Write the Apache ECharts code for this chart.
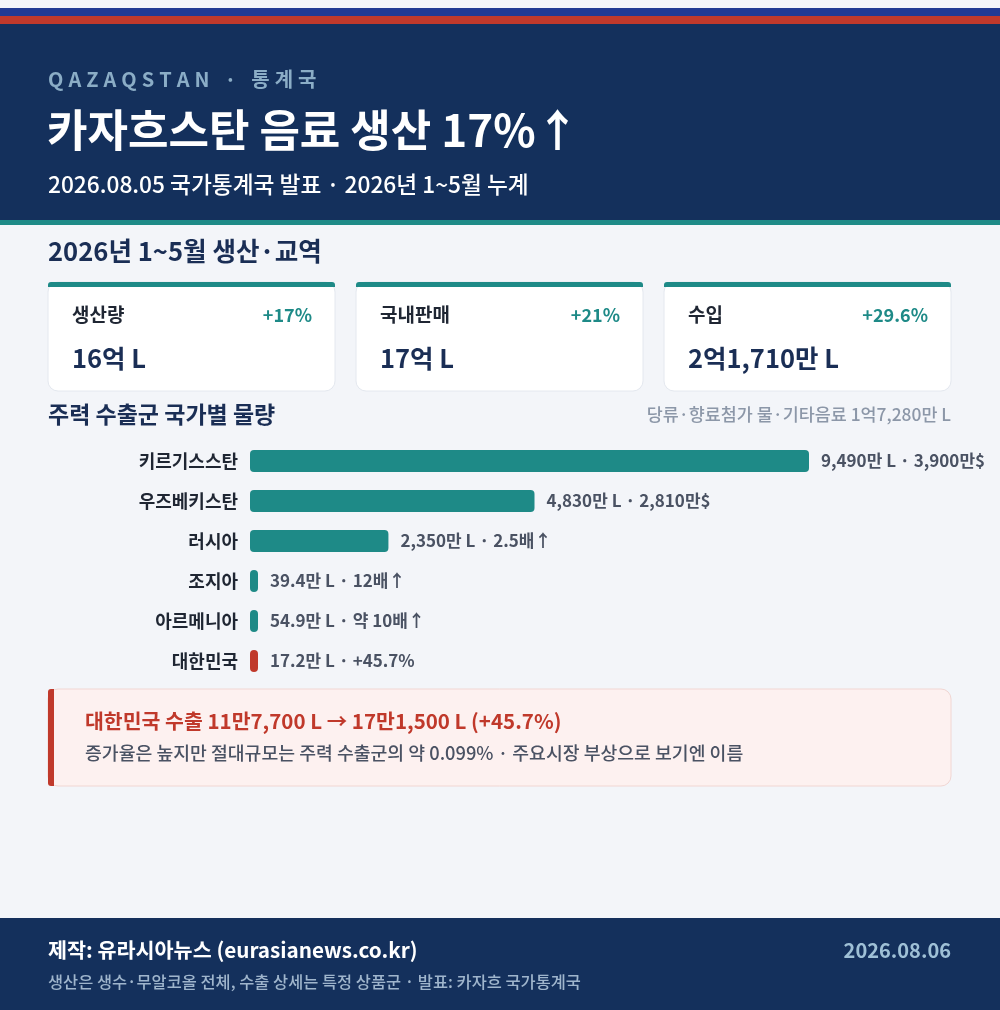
<!DOCTYPE html>
<html>
<head>
<meta charset="utf-8">
<script src="https://cdn.jsdelivr.net/npm/echarts@6/dist/echarts.min.js"></script>
<style>
  html, body { margin: 0; padding: 0; background: #f3f5f9; }
  #main { width: 1000px; height: 1010px; }
</style>
</head>
<body>
<div id="main"></div>
<script>
'use strict';

var FONT = '"Noto Sans CJK KR", "Noto Sans", sans-serif';

// country export volumes (만 L)
var countries = ['키르기스스탄', '우즈베키스탄', '러시아', '조지아', '아르메니아', '대한민국'];
var volumes = [9490, 4830, 2350, 39.4, 54.9, 17.2];
var volumeLabels = [
  '9,490만 L · 3,900만$',
  '4,830만 L · 2,810만$',
  '2,350만 L · 2.5배↑',
  '39.4만 L · 12배↑',
  '54.9만 L · 약 10배↑',
  '17.2만 L · +45.7%'
];

// summary cards
var cardNames = ['생산량', '국내판매', '수입'];
var cardChanges = ['+17%', '+21%', '+29.6%'];
var cardValues = ['16억 L', '17억 L', '2억1,710만 L'];

var TEAL = '#1e8a87';
var RED = '#c0392b';
var NAVY = '#14305c';

function txt(x, y, text, size, weight, color, align) {
  return {
    type: 'text', x: x, y: y, silent: true,
    style: {
      text: text,
      font: weight + ' ' + size + 'px ' + FONT,
      fill: color,
      textAlign: align || 'left',
      textVerticalAlign: 'middle'
    }
  };
}

var graphics = [
  // top stripes + header
  { type: 'rect', shape: { x: 0, y: 8, width: 1000, height: 8 }, style: { fill: '#213a93' } },
  { type: 'rect', shape: { x: 0, y: 16, width: 1000, height: 8 }, style: { fill: RED } },
  { type: 'rect', shape: { x: 0, y: 24, width: 1000, height: 196 }, style: { fill: NAVY } },
  { type: 'rect', shape: { x: 0, y: 220, width: 1000, height: 5 }, style: { fill: TEAL } },
  txt(48, 79, 'Q\u2005A\u2005Z\u2005A\u2005Q\u2005S\u2005T\u2005A\u2005N\u2002\u2005\u00b7\u2002\u2005통\u2005계\u2005국', 20, 'bold', '#8badc6'),
  txt(47, 130, '카자흐스탄 음료 생산 17%↑', 44, 'bold', '#ffffff'),
  txt(48, 184, '2026.08.05 국가통계국 발표 · 2026년 1~5월 누계', 22.7, '500', '#ffffff'),

  txt(48, 251, '2026년 1~5월 생산·교역', 25.6, 'bold', '#1a2e55'),

  txt(48, 414, '주력 수출군 국가별 물량', 23, 'bold', '#1a2e55'),
  txt(951, 414, '당류·향료첨가 물·기타음료 1억7,280만 L', 17.4, '500', '#8c97a8', 'right'),

  // note box
  { type: 'rect', shape: { x: 48, y: 689, width: 903, height: 97, r: 10 }, style: { fill: '#fdf1f0', stroke: '#f1d6d3', lineWidth: 1 } },
  { type: 'rect', shape: { x: 48, y: 689, width: 6, height: 97, r: [3, 0, 0, 3] }, style: { fill: RED } },
  txt(85, 721, '대한민국 수출 11만7,700 L → 17만1,500 L (+45.7%)', 20.5, 'bold', RED),
  txt(85, 753, '증가율은 높지만 절대규모는 주력 수출군의 약 0.099% · 주요시장 부상으로 보기엔 이름', 18.3, '500', '#4a5263'),

  // footer
  { type: 'rect', shape: { x: 0, y: 918, width: 1000, height: 92 }, style: { fill: NAVY } },
  txt(48, 950, '제작: 유라시아뉴스 (eurasianews.co.kr)', 20.7, 'bold', '#ffffff'),
  txt(951, 950, '2026.08.06', 20, 'bold', '#9fc0d6', 'right'),
  txt(48, 982, '생산은 생수·무알코올 전체, 수출 상세는 특정 상품군 · 발표: 카자흐 국가통계국', 16.4, '500', '#9fb5cc')
];

// cards
for (var i = 0; i < cardNames.length; i++) {
  var cx = 48 + i * 308;
  graphics.push({ type: 'rect', shape: { x: cx, y: 282, width: 287, height: 109, r: 10 }, style: { fill: '#ffffff', stroke: '#e4e8ef', lineWidth: 1 } });
  graphics.push({ type: 'rect', shape: { x: cx, y: 282, width: 287, height: 5, r: [3, 3, 0, 0] }, style: { fill: TEAL } });
  graphics.push(txt(cx + 24, 315, cardNames[i], 19, 'bold', '#1f2633'));
  graphics.push(txt(cx + 264, 315, cardChanges[i], 18, 'bold', TEAL, 'right'));
  graphics.push(txt(cx + 24, 358, cardValues[i], 25.5, 'bold', '#1a2e55'));
}

var chart = echarts.init(document.getElementById('main'));

var option = {
  backgroundColor: '#f3f5f9',
  animation: false,
  textStyle: { fontFamily: FONT },
  graphic: graphics,
  grid: { left: 250, right: 191, top: 441, height: 240, containLabel: false },
  xAxis: {
    type: 'value', min: 0, max: 9490,
    show: false
  },
  yAxis: {
    type: 'category',
    data: countries,
    inverse: true,
    axisLine: { show: false },
    axisTick: { show: false },
    splitLine: { show: false },
    axisLabel: {
      margin: 12,
      fontSize: 18,
      fontWeight: 'bold',
      color: '#1f2633',
      fontFamily: FONT
    }
  },
  series: [{
    type: 'bar',
    barWidth: 22,
    barMinHeight: 8,
    data: volumes.map(function(v, k) {
      return {
        value: v,
        itemStyle: { color: countries[k] === '대한민국' ? RED : TEAL, borderRadius: 4 }
      };
    }),
    label: {
      show: true,
      position: 'right',
      distance: 12,
      fontSize: 17,
      fontWeight: 'bold',
      color: '#4a5263',
      fontFamily: FONT,
      formatter: function(p) { return volumeLabels[p.dataIndex]; }
    }
  }]
};

chart.setOption(option);
</script>
</body>
</html>
